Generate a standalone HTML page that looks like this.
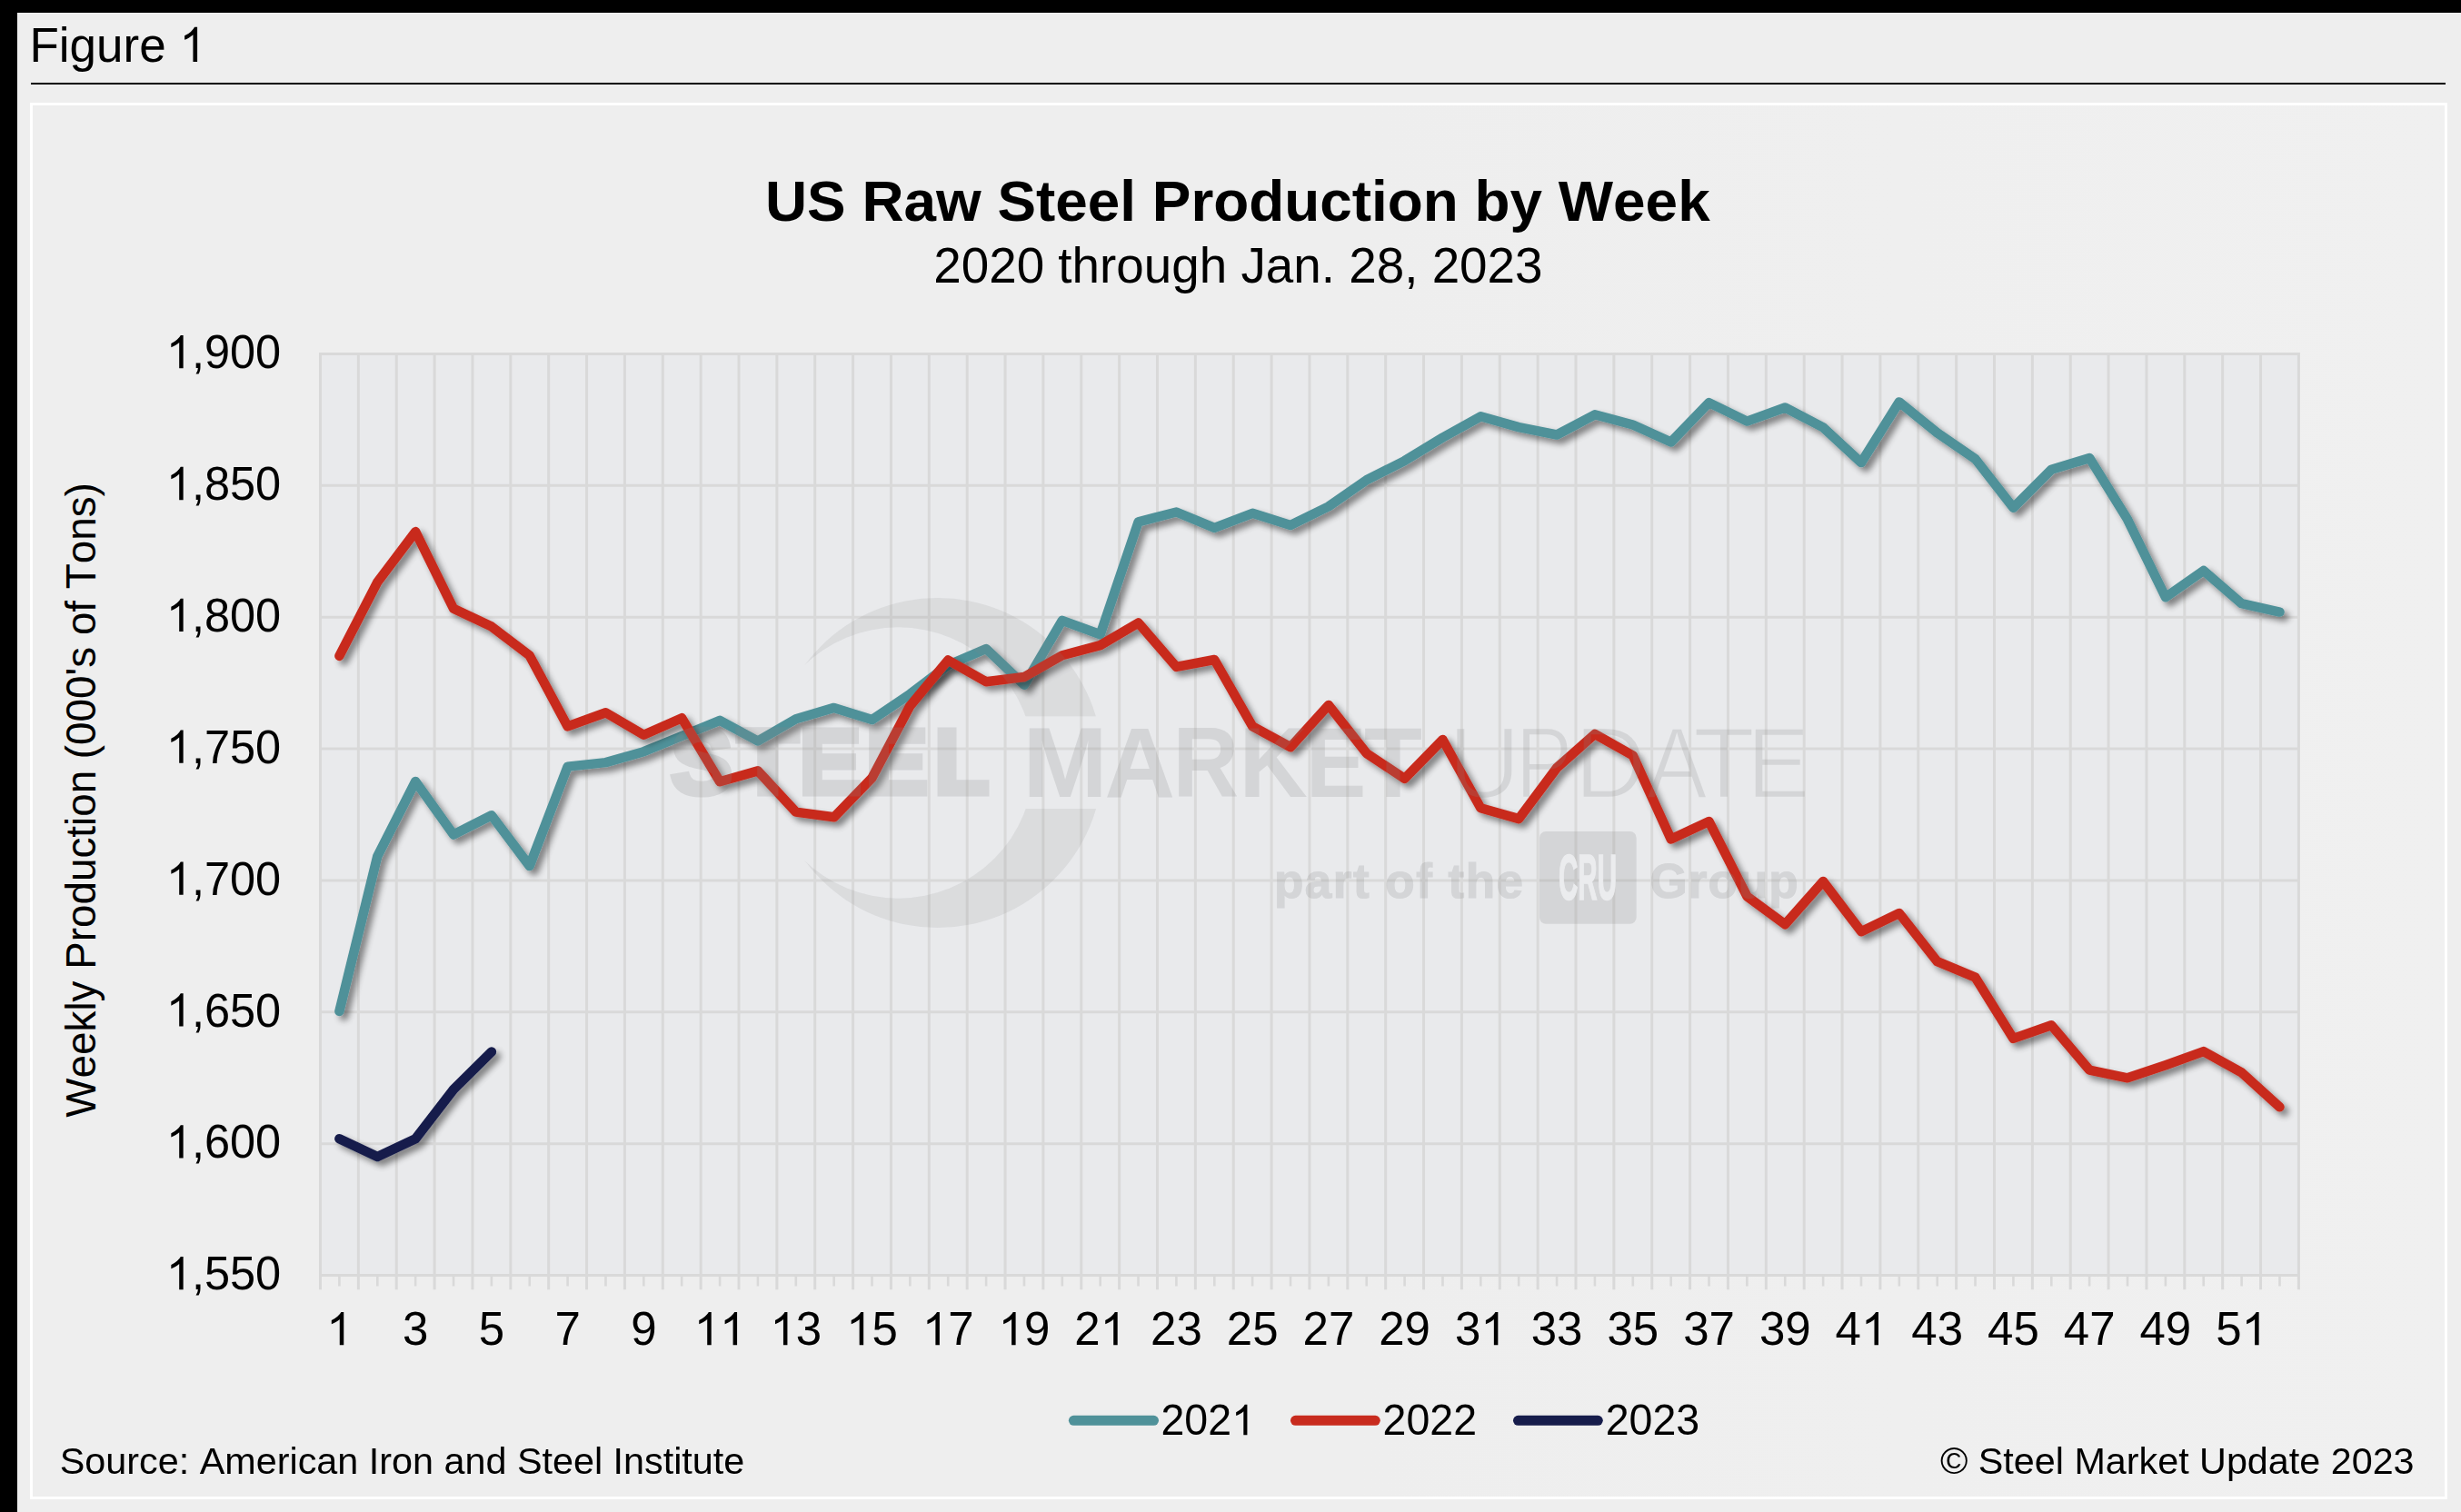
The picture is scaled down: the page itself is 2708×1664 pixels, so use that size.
<!DOCTYPE html>
<html><head><meta charset="utf-8"><title>Figure 1</title>
<style>
html,body{margin:0;padding:0;}
body{width:2708px;height:1664px;background:#000;overflow:hidden;position:relative;font-family:"Liberation Sans",sans-serif;}
.page{position:absolute;left:19px;top:14px;width:2689px;height:1650px;background:#eeeeee;}
.rule{position:absolute;left:34px;top:91px;width:2656.5px;height:2.2px;background:#000;}
.box{position:absolute;left:33px;top:113px;width:2654px;height:1531px;border:3px solid #fff;background:linear-gradient(90deg,#eeeeee 0%,#eeeeee 55%,#f0f0f0 100%);}
svg{position:absolute;left:0;top:0;}
text{font-family:"Liberation Sans",sans-serif;fill:#000;font-kerning:none;white-space:pre;}
.wm text{fill:#868789;}
</style></head><body>
<div class="page"></div>
<div class="rule"></div>
<div class="box"></div>
<svg width="2708" height="1664" viewBox="0 0 2708 1664">
<defs>
<filter id="sh" filterUnits="userSpaceOnUse" x="320" y="360" width="2260" height="1080">
<feGaussianBlur in="SourceAlpha" stdDeviation="3.8"/>
<feOffset dx="4.8" dy="4.8" result="b"/>
<feComponentTransfer><feFuncA type="linear" slope="0.46"/></feComponentTransfer>
<feMerge><feMergeNode/><feMergeNode in="SourceGraphic"/></feMerge>
</filter>
<clipPath id="cres"><rect x="800" y="600" width="500" height="188.2"/><rect x="800" y="890" width="500" height="200"/></clipPath>
<mask id="cm" maskUnits="userSpaceOnUse" x="800" y="600" width="500" height="500">
<circle cx="1031.7" cy="839.5" r="181.5" fill="#fff"/>
<circle cx="988.5" cy="839.5" r="149.2" fill="#000"/>
</mask>
<mask id="upd" maskUnits="userSpaceOnUse" x="1580" y="780" width="430" height="110">
<text x="1593.74" y="878.1" font-size="111.5" textLength="79.23" lengthAdjust="spacingAndGlyphs" style="fill:#fff;stroke:#000;stroke-width:2.4">U</text>
<text x="1667.56" y="878.1" font-size="111.5" textLength="62.91" lengthAdjust="spacingAndGlyphs" style="fill:#fff;stroke:#000;stroke-width:2.4">P</text>
<text x="1732.61" y="878.1" font-size="111.5" textLength="79.13" lengthAdjust="spacingAndGlyphs" style="fill:#fff;stroke:#000;stroke-width:2.4">D</text>
<text x="1811.60" y="878.1" font-size="111.5" textLength="67.19" lengthAdjust="spacingAndGlyphs" style="fill:#fff;stroke:#000;stroke-width:2.4">A</text>
<text x="1863.00" y="878.1" font-size="111.5" textLength="67.95" lengthAdjust="spacingAndGlyphs" style="fill:#fff;stroke:#000;stroke-width:2.4">T</text>
<text x="1922.31" y="878.1" font-size="111.5" textLength="69.04" lengthAdjust="spacingAndGlyphs" style="fill:#fff;stroke:#000;stroke-width:2.4">E</text>
</mask>
<path id="one" d="M763 0H583V1147Q518 1085 412.5 1023T223 930V1104Q374 1175 487 1276T647 1472H763Z"/>
</defs>
<text transform="translate(32.40 67.90) scale(1 1)" font-size="53">Figure   </text><use href="#one" transform="translate(197.35 67.90) scale(0.02588 -0.02588)"/>
<text x="1361.8" y="243.2" font-size="63.87" font-weight="bold" text-anchor="middle">US Raw Steel Production by Week</text>
<text x="1362.4" y="310.9" font-size="54.8" text-anchor="middle">2020 through Jan. 28, 2023</text>
<rect x="352.5" y="389.5" width="2176.9" height="1014.0" fill="#e9eaec"/>
<path d="M351.1 389.50H2530.8M351.1 534.36H2530.8M351.1 679.21H2530.8M351.1 824.07H2530.8M351.1 968.93H2530.8M351.1 1113.79H2530.8M351.1 1258.64H2530.8M351.1 1403.50H2530.8M352.50 388.1V1419.3M394.36 388.1V1419.3M436.23 388.1V1419.3M478.09 388.1V1419.3M519.95 388.1V1419.3M561.82 388.1V1419.3M603.68 388.1V1419.3M645.54 388.1V1419.3M687.41 388.1V1419.3M729.27 388.1V1419.3M771.13 388.1V1419.3M813.00 388.1V1419.3M854.86 388.1V1419.3M896.73 388.1V1419.3M938.59 388.1V1419.3M980.45 388.1V1419.3M1022.32 388.1V1419.3M1064.18 388.1V1419.3M1106.04 388.1V1419.3M1147.91 388.1V1419.3M1189.77 388.1V1419.3M1231.63 388.1V1419.3M1273.50 388.1V1419.3M1315.36 388.1V1419.3M1357.22 388.1V1419.3M1399.09 388.1V1419.3M1440.95 388.1V1419.3M1482.81 388.1V1419.3M1524.68 388.1V1419.3M1566.54 388.1V1419.3M1608.40 388.1V1419.3M1650.27 388.1V1419.3M1692.13 388.1V1419.3M1733.99 388.1V1419.3M1775.86 388.1V1419.3M1817.72 388.1V1419.3M1859.58 388.1V1419.3M1901.45 388.1V1419.3M1943.31 388.1V1419.3M1985.18 388.1V1419.3M2027.04 388.1V1419.3M2068.90 388.1V1419.3M2110.77 388.1V1419.3M2152.63 388.1V1419.3M2194.49 388.1V1419.3M2236.36 388.1V1419.3M2278.22 388.1V1419.3M2320.08 388.1V1419.3M2361.95 388.1V1419.3M2403.81 388.1V1419.3M2445.67 388.1V1419.3M2487.54 388.1V1419.3M2529.40 388.1V1419.3" stroke="#d9d9d9" stroke-width="3" fill="none"/>
<path d="M373.43 1403.5V1415.5M415.30 1403.5V1415.5M457.16 1403.5V1415.5M499.02 1403.5V1415.5M540.89 1403.5V1415.5M582.75 1403.5V1415.5M624.61 1403.5V1415.5M666.48 1403.5V1415.5M708.34 1403.5V1415.5M750.20 1403.5V1415.5M792.07 1403.5V1415.5M833.93 1403.5V1415.5M875.79 1403.5V1415.5M917.66 1403.5V1415.5M959.52 1403.5V1415.5M1001.38 1403.5V1415.5M1043.25 1403.5V1415.5M1085.11 1403.5V1415.5M1126.97 1403.5V1415.5M1168.84 1403.5V1415.5M1210.70 1403.5V1415.5M1252.56 1403.5V1415.5M1294.43 1403.5V1415.5M1336.29 1403.5V1415.5M1378.15 1403.5V1415.5M1420.02 1403.5V1415.5M1461.88 1403.5V1415.5M1503.75 1403.5V1415.5M1545.61 1403.5V1415.5M1587.47 1403.5V1415.5M1629.34 1403.5V1415.5M1671.20 1403.5V1415.5M1713.06 1403.5V1415.5M1754.93 1403.5V1415.5M1796.79 1403.5V1415.5M1838.65 1403.5V1415.5M1880.52 1403.5V1415.5M1922.38 1403.5V1415.5M1964.24 1403.5V1415.5M2006.11 1403.5V1415.5M2047.97 1403.5V1415.5M2089.83 1403.5V1415.5M2131.70 1403.5V1415.5M2173.56 1403.5V1415.5M2215.42 1403.5V1415.5M2257.29 1403.5V1415.5M2299.15 1403.5V1415.5M2341.01 1403.5V1415.5M2382.88 1403.5V1415.5M2424.74 1403.5V1415.5M2466.60 1403.5V1415.5M2508.47 1403.5V1415.5" stroke="#d9d9d9" stroke-width="2.6" fill="none"/>
<text transform="translate(182.83 405.30) scale(1 1.03)" font-size="50.5">  ,900</text><use href="#one" transform="translate(182.83 405.30) scale(0.02466 -0.02466)"/>
<text transform="translate(182.83 550.16) scale(1 1.03)" font-size="50.5">  ,850</text><use href="#one" transform="translate(182.83 550.16) scale(0.02466 -0.02466)"/>
<text transform="translate(182.83 695.01) scale(1 1.03)" font-size="50.5">  ,800</text><use href="#one" transform="translate(182.83 695.01) scale(0.02466 -0.02466)"/>
<text transform="translate(182.83 839.87) scale(1 1.03)" font-size="50.5">  ,750</text><use href="#one" transform="translate(182.83 839.87) scale(0.02466 -0.02466)"/>
<text transform="translate(182.83 984.73) scale(1 1.03)" font-size="50.5">  ,700</text><use href="#one" transform="translate(182.83 984.73) scale(0.02466 -0.02466)"/>
<text transform="translate(182.83 1129.59) scale(1 1.03)" font-size="50.5">  ,650</text><use href="#one" transform="translate(182.83 1129.59) scale(0.02466 -0.02466)"/>
<text transform="translate(182.83 1274.44) scale(1 1.03)" font-size="50.5">  ,600</text><use href="#one" transform="translate(182.83 1274.44) scale(0.02466 -0.02466)"/>
<text transform="translate(182.83 1419.30) scale(1 1.03)" font-size="50.5">  ,550</text><use href="#one" transform="translate(182.83 1419.30) scale(0.02466 -0.02466)"/>
<use href="#one" transform="translate(359.25 1480.20) scale(0.02490 -0.02465)"/>
<text transform="translate(442.98 1480.20) scale(1 1.02)" font-size="51">3</text>
<text transform="translate(526.70 1480.20) scale(1 1.02)" font-size="51">5</text>
<text transform="translate(610.43 1480.20) scale(1 1.02)" font-size="51">7</text>
<text transform="translate(694.16 1480.20) scale(1 1.02)" font-size="51">9</text>
<use href="#one" transform="translate(763.70 1480.20) scale(0.02490 -0.02465)"/><use href="#one" transform="translate(792.07 1480.20) scale(0.02490 -0.02465)"/>
<text transform="translate(847.43 1480.20) scale(1 1.02)" font-size="51">  3</text><use href="#one" transform="translate(847.43 1480.20) scale(0.02490 -0.02465)"/>
<text transform="translate(931.16 1480.20) scale(1 1.02)" font-size="51">  5</text><use href="#one" transform="translate(931.16 1480.20) scale(0.02490 -0.02465)"/>
<text transform="translate(1014.88 1480.20) scale(1 1.02)" font-size="51">  7</text><use href="#one" transform="translate(1014.88 1480.20) scale(0.02490 -0.02465)"/>
<text transform="translate(1098.61 1480.20) scale(1 1.02)" font-size="51">  9</text><use href="#one" transform="translate(1098.61 1480.20) scale(0.02490 -0.02465)"/>
<text transform="translate(1182.34 1480.20) scale(1 1.02)" font-size="51">2  </text><use href="#one" transform="translate(1210.70 1480.20) scale(0.02490 -0.02465)"/>
<text transform="translate(1266.06 1480.20) scale(1 1.02)" font-size="51">23</text>
<text transform="translate(1349.79 1480.20) scale(1 1.02)" font-size="51">25</text>
<text transform="translate(1433.52 1480.20) scale(1 1.02)" font-size="51">27</text>
<text transform="translate(1517.24 1480.20) scale(1 1.02)" font-size="51">29</text>
<text transform="translate(1600.97 1480.20) scale(1 1.02)" font-size="51">3  </text><use href="#one" transform="translate(1629.34 1480.20) scale(0.02490 -0.02465)"/>
<text transform="translate(1684.70 1480.20) scale(1 1.02)" font-size="51">33</text>
<text transform="translate(1768.43 1480.20) scale(1 1.02)" font-size="51">35</text>
<text transform="translate(1852.15 1480.20) scale(1 1.02)" font-size="51">37</text>
<text transform="translate(1935.88 1480.20) scale(1 1.02)" font-size="51">39</text>
<text transform="translate(2019.61 1480.20) scale(1 1.02)" font-size="51">4  </text><use href="#one" transform="translate(2047.97 1480.20) scale(0.02490 -0.02465)"/>
<text transform="translate(2103.33 1480.20) scale(1 1.02)" font-size="51">43</text>
<text transform="translate(2187.06 1480.20) scale(1 1.02)" font-size="51">45</text>
<text transform="translate(2270.79 1480.20) scale(1 1.02)" font-size="51">47</text>
<text transform="translate(2354.51 1480.20) scale(1 1.02)" font-size="51">49</text>
<text transform="translate(2438.24 1480.20) scale(1 1.02)" font-size="51">5  </text><use href="#one" transform="translate(2466.60 1480.20) scale(0.02490 -0.02465)"/>
<text transform="translate(105.3 880.4) rotate(-90)" font-size="45.8" text-anchor="middle">Weekly Production (000's of Tons)</text>
<g fill="none" stroke-width="10.5" stroke-linecap="round" stroke-linejoin="round">
<polyline filter="url(#sh)" stroke="#4f9199" points="373.4,1113.0 415.3,942.3 457.2,860.0 499.0,918.5 540.9,897.3 582.7,953.0 624.6,843.6 666.5,839.1 708.3,827.2 750.2,810.0 792.1,792.8 833.9,815.5 875.8,791.3 917.7,778.9 959.5,792.1 1001.4,763.8 1043.2,732.0 1085.1,714.0 1127.0,753.8 1168.8,682.9 1210.7,698.2 1252.6,574.4 1294.4,563.5 1336.3,580.9 1378.2,564.8 1420.0,578.0 1461.9,557.4 1503.7,528.3 1545.6,507.1 1587.5,481.5 1629.3,458.3 1671.2,470.1 1713.1,478.5 1754.9,456.3 1796.8,467.5 1838.7,486.5 1880.5,443.1 1922.4,463.6 1964.2,448.5 2006.1,470.3 2048.0,509.1 2089.8,442.4 2131.7,476.4 2173.6,505.1 2215.4,558.8 2257.3,516.7 2299.2,504.1 2341.0,571.6 2382.9,657.2 2424.7,628.0 2466.6,664.2 2508.5,673.6"/>
<polyline filter="url(#sh)" stroke="#c82b1e" points="373.4,721.9 415.3,640.7 457.2,585.1 499.0,669.8 540.9,689.6 582.7,721.4 624.6,799.4 666.5,784.3 708.3,808.7 750.2,790.2 792.1,860.3 833.9,848.4 875.8,893.6 917.7,899.3 959.5,856.1 1001.4,776.8 1043.2,726.5 1085.1,750.3 1127.0,745.0 1168.8,721.2 1210.7,710.1 1252.6,685.5 1294.4,733.9 1336.3,726.0 1378.2,799.3 1420.0,822.2 1461.9,775.9 1503.7,829.1 1545.6,856.9 1587.5,814.0 1629.3,889.2 1671.2,901.1 1713.1,845.0 1754.9,807.9 1796.8,831.5 1838.7,923.5 1880.5,904.0 1922.4,986.4 1964.2,1017.2 2006.1,970.0 2048.0,1025.2 2089.8,1005.1 2131.7,1058.2 2173.6,1075.7 2215.4,1142.9 2257.3,1128.3 2299.2,1177.6 2341.0,1186.3 2382.9,1172.2 2424.7,1157.1 2466.6,1180.3 2508.5,1218.3"/>
<polyline filter="url(#sh)" stroke="#161c4b" points="373.4,1253.2 415.3,1273.0 457.2,1253.2 499.0,1199.0 540.9,1157.4"/>
</g>
<g opacity="0.21" style="fill:#868789">
<g clip-path="url(#cres)"><rect x="800" y="600" width="500" height="500" mask="url(#cm)" opacity="0.68"/></g>
<g class="wm">
<text x="738.50" y="873.4" font-size="100" font-weight="bold" textLength="67.24" lengthAdjust="spacingAndGlyphs" stroke="#868789" stroke-width="7" stroke-linejoin="miter">S</text>
<text x="811.88" y="873.4" font-size="100" font-weight="bold" textLength="66.18" lengthAdjust="spacingAndGlyphs" stroke="#868789" stroke-width="7" stroke-linejoin="miter">T</text>
<text x="879.70" y="873.4" font-size="100" font-weight="bold" textLength="67.77" lengthAdjust="spacingAndGlyphs" stroke="#868789" stroke-width="7" stroke-linejoin="miter">E</text>
<text x="953.10" y="873.4" font-size="100" font-weight="bold" textLength="67.77" lengthAdjust="spacingAndGlyphs" stroke="#868789" stroke-width="7" stroke-linejoin="miter">E</text>
<text x="1028.47" y="873.4" font-size="100" font-weight="bold" textLength="59.63" lengthAdjust="spacingAndGlyphs" stroke="#868789" stroke-width="7" stroke-linejoin="miter">L</text>
<text x="1125.19" y="877.0" font-size="109" font-weight="bold" textLength="93.52" lengthAdjust="spacingAndGlyphs">M</text>
<text x="1215.43" y="877.0" font-size="109" font-weight="bold" textLength="77.50" lengthAdjust="spacingAndGlyphs">A</text>
<text x="1290.47" y="877.0" font-size="109" font-weight="bold" textLength="72.70" lengthAdjust="spacingAndGlyphs">R</text>
<text x="1363.53" y="877.0" font-size="109" font-weight="bold" textLength="75.24" lengthAdjust="spacingAndGlyphs">K</text>
<text x="1436.72" y="877.0" font-size="109" font-weight="bold" textLength="66.58" lengthAdjust="spacingAndGlyphs">E</text>
<text x="1501.02" y="877.0" font-size="109" font-weight="bold" textLength="64.00" lengthAdjust="spacingAndGlyphs">T</text>
<rect x="1580" y="780" width="430" height="110" mask="url(#upd)"/>
<text x="1402" y="988" font-size="53" font-weight="bold" stroke="#868789" stroke-width="1.2" textLength="274" lengthAdjust="spacing">part of the</text>
<text x="1815.5" y="988" font-size="53" font-weight="bold" stroke="#868789" stroke-width="1.2" textLength="163" lengthAdjust="spacing">Group</text>
</g>
<rect x="1694" y="915" width="106.6" height="101.7" rx="7" ry="7"/>
</g>
<text x="1747" y="989.7" font-size="71" font-weight="bold" text-anchor="middle" textLength="64" lengthAdjust="spacingAndGlyphs" style="fill:#ebecee;stroke:#ebecee;stroke-width:1.6">CRU</text>
<path d="M1181.4 1563.3H1269.5" stroke="#4f9199" stroke-width="11" stroke-linecap="round"/>
<text transform="translate(1277.50 1579.20) scale(1 1.02)" font-size="46.5">202  </text><use href="#one" transform="translate(1355.08 1579.20) scale(0.02271 -0.02271)"/>
<path d="M1425.5 1563.3H1513.3" stroke="#c82b1e" stroke-width="11" stroke-linecap="round"/>
<text transform="translate(1521.60 1579.20) scale(1 1.02)" font-size="46.5">2022</text>
<path d="M1670.5 1563.3H1758.3" stroke="#161c4b" stroke-width="11" stroke-linecap="round"/>
<text transform="translate(1766.70 1579.20) scale(1 1.02)" font-size="46.5">2023</text>
<text x="65.8" y="1621.8" font-size="41.33">Source: American Iron and Steel Institute</text>
<text x="2656.6" y="1621.8" font-size="41.3" text-anchor="end">© Steel Market Update 2023</text>
</svg>
</body></html>
